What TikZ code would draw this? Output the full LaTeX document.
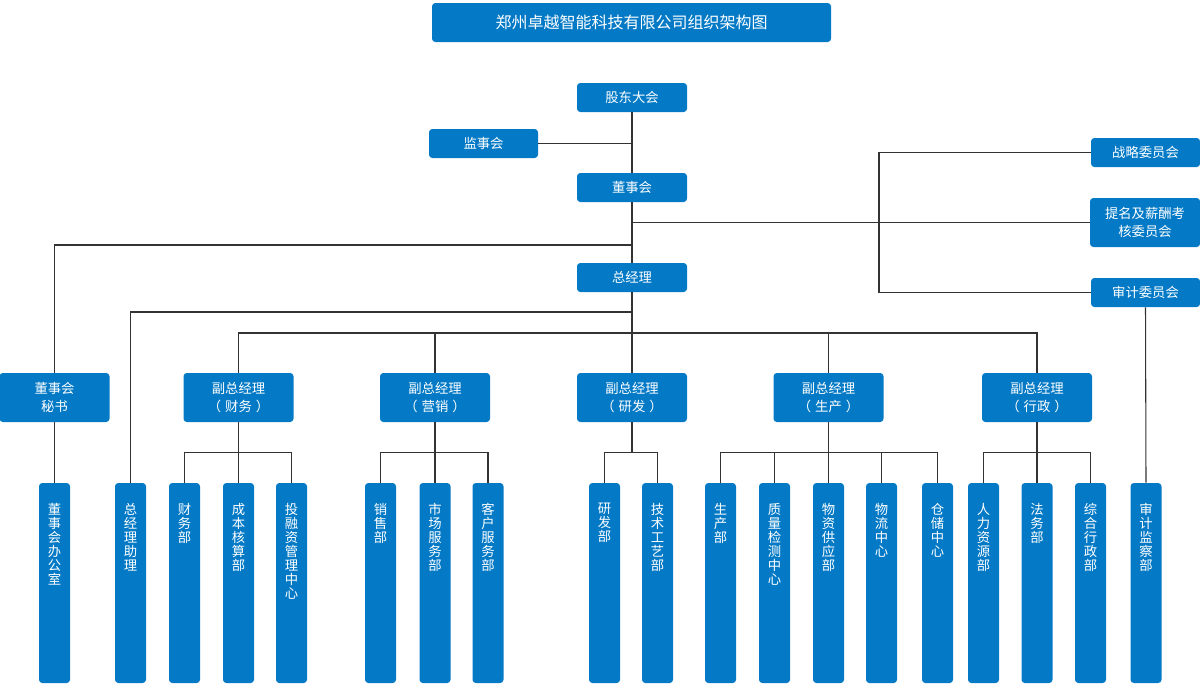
\documentclass[tikz,border=0pt]{standalone}
\usepackage{fontspec}
\setmainfont{Noto Sans CJK SC}
\usetikzlibrary{calc}
\definecolor{cblue}{RGB}{4,122,199}
\definecolor{lgray}{RGB}{51,51,51}
\newcommand\colt[1]{\vbox to 150pt{\hsize=23.25pt\parindent=0pt\vskip 15pt\centering #1\par\vfill}}
\newcommand\pp[1]{（\hspace{3pt}#1\hspace{3pt}）}
\tikzset{
 bx/.style={fill=cblue, rounded corners=2.5pt, text=white, inner sep=0pt, font=\fontsize{10pt}{13.5pt}\selectfont, align=center, minimum width=82.5pt, minimum height=21.75pt},
 bx2/.style={bx, minimum height=36.75pt},
 col/.style={fill=cblue, rounded corners=2.5pt, text=white, inner sep=0pt, minimum width=23.25pt, minimum height=150pt, font=\fontsize{10pt}{10.5pt}\selectfont},
 ln/.style={draw=lgray, line width=0.8pt}
}
\begin{document}
\begin{tikzpicture}[x=0.75pt,y=-0.75pt]
\useasboundingbox (0,0) rectangle (1200,693);
% title
\node[bx, minimum width=299.25pt, minimum height=29.25pt, font=\fontsize{12pt}{14pt}\selectfont] (title) at (631.5,22.5) {郑州卓越智能科技有限公司组织架构图};
% top boxes
\node[bx] (gd) at (632,97.5) {股东大会};
\node[bx, minimum width=81.75pt] (jsh) at (483.5,143.5) {监事会};
\node[bx] (dsh) at (632,187.5) {董事会};
\node[bx] (zjl) at (632,277.5) {总经理};
\node[bx, minimum width=81.75pt] (zlwy) at (1145.5,152.5) {战略委员会};
\node[bx2] (tm) at (1145,222.5) {提名及薪酬考\\核委员会};
\node[bx, minimum width=81.75pt] (sjwy) at (1145.5,292.5) {审计委员会};
% second level
\node[bx2] (ms) at (54.5,397.5) {董事会\\秘书};
\node[bx2] (fz1) at (238.5,397.5) {副总经理\\\pp{财务}};
\node[bx2] (fz2) at (435,397.5) {副总经理\\\pp{营销}};
\node[bx2] (fz3) at (632,397.5) {副总经理\\\pp{研发}};
\node[bx2] (fz4) at (828.5,397.5) {副总经理\\\pp{生产}};
\node[bx2] (fz5) at (1037,397.5) {副总经理\\\pp{行政}};
% columns
\node[col] (bgs) at (54.5,583) {\colt{董\\事\\会\\办\\公\\室}};
\node[col] (zl) at (130.5,583) {\colt{总\\经\\理\\助\\理}};
\node[col] (cwb) at (184.5,583) {\colt{财\\务\\部}};
\node[col] (cb) at (238.5,583) {\colt{成\\本\\核\\算\\部}};
\node[col] (trz) at (291.5,583) {\colt{投\\融\\资\\管\\理\\中\\心}};
\node[col] (xs) at (380.5,583) {\colt{销\\售\\部}};
\node[col] (scfw) at (435,583) {\colt{市\\场\\服\\务\\部}};
\node[col] (kh) at (488,583) {\colt{客\\户\\服\\务\\部}};
\node[col] (yf) at (604.5,583) {\colt{研\\发\\部}};
\node[col] (js) at (657.5,583) {\colt{技\\术\\工\\艺\\部}};
\node[col] (sc) at (720.5,583) {\colt{生\\产\\部}};
\node[col] (zljc) at (774.5,583) {\colt{质\\量\\检\\测\\中\\心}};
\node[col] (wz) at (828.5,583) {\colt{物\\资\\供\\应\\部}};
\node[col] (wl) at (881.5,583) {\colt{物\\流\\中\\心}};
\node[col] (cc) at (937.5,583) {\colt{仓\\储\\中\\心}};
\node[col] (rl) at (983.5,583) {\colt{人\\力\\资\\源\\部}};
\node[col] (fw) at (1037,583) {\colt{法\\务\\部}};
\node[col] (zh) at (1090.5,583) {\colt{综\\合\\行\\政\\部}};
\node[col] (sjjc) at (1146,583) {\colt{审\\计\\监\\察\\部}};
% connectors
\draw[ln] (gd.south) -- (dsh.north);
\draw[ln] (jsh.east) -- (jsh.east -| gd.south);
\draw[ln] (dsh.south) -- (zjl.north);
\draw[ln] (tm.west) -- (tm.west -| dsh.south);
\coordinate (k) at (879,0);
\draw[ln] (zlwy.west) -| (k |- sjwy.west) -- (sjwy.west);
\coordinate (a245) at (632,245);
\draw[ln] (a245) -| (ms.north);
\coordinate (a312) at (632,312);
\draw[ln] (a312) -| (zl.north);
\coordinate (bar) at (632,333);
\draw[ln] (zjl.south) -- (bar) -- (fz3.north);
\draw[ln] (fz1.north) |- (bar) -| (fz5.north);
\draw[ln] (fz2.north) -- (fz2.north |- bar);
\draw[ln] (fz4.north) -- (fz4.north |- bar);
\draw[ln] (ms.south) -- (bgs.north);
\draw[ln] (sjwy.south) -- (sjjc.north);
% branches
\draw[ln] (cwb.north) -- ++(0,-30) -| (trz.north);
\draw[ln] (fz1.south) -- (cb.north);
\draw[ln] (xs.north) -- ++(0,-30) -| (kh.north);
\draw[ln] (fz2.south) -- (scfw.north);
\draw[ln] (yf.north) -- ++(0,-30) -| (js.north);
\draw[ln] (fz3.south) -- ($(fz3.south |- yf.north)+(0,-30)$);
\draw[ln] (sc.north) -- ++(0,-30) -| (cc.north);
\draw[ln] (zljc.north) -- ++(0,-30);
\draw[ln] (wl.north) -- ++(0,-30);
\draw[ln] (fz4.south) -- (wz.north);
\draw[ln] (rl.north) -- ++(0,-30) -| (zh.north);
\draw[ln] (fz5.south) -- (fw.north);
\end{tikzpicture}
\end{document}
